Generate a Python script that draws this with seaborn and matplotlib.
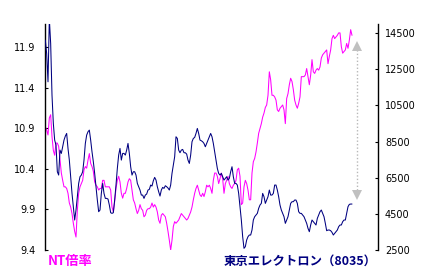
import numpy as np
import pandas as pd
import matplotlib
matplotlib.use("Agg")
import matplotlib.pyplot as plt
import seaborn as sns

# NT ratio (left axis)
nt_ratio = [
    10.92, 10.88, 10.82, 11.03, 11.07, 10.80, 10.63, 10.57, 10.72, 10.72,
    10.68, 10.51, 10.35, 10.26, 10.18, 10.18, 10.16, 10.10, 9.98, 9.93,
    9.85, 9.73, 9.63, 9.56, 9.89, 10.10, 10.18, 10.22, 10.26, 10.39,
    10.43, 10.41, 10.51, 10.59, 10.47, 10.43, 10.37, 10.24, 10.20, 10.18,
    10.14, 10.16, 10.16, 10.26, 10.26, 10.18, 10.18, 10.18, 10.18, 10.14,
    9.93, 9.87, 10.00, 10.16, 10.26, 10.31, 10.24, 10.10, 10.04, 10.10,
    10.10, 10.16, 10.24, 10.28, 10.26, 10.14, 10.02, 9.98, 9.91, 9.85,
    9.89, 9.96, 9.91, 9.89, 9.81, 9.83, 9.89, 9.91, 9.91, 9.93,
    9.98, 9.93, 9.96, 9.93, 9.87, 9.77, 9.73, 9.83, 9.85, 9.83,
    9.81, 9.73, 9.63, 9.52, 9.40, 9.52, 9.69, 9.75, 9.73, 9.75,
    9.77, 9.81, 9.85, 9.83, 9.81, 9.79, 9.77, 9.79, 9.83, 9.87,
    9.93, 10.02, 10.10, 10.16, 10.20, 10.14, 10.08, 10.06, 10.10, 10.06,
    10.12, 10.20, 10.18, 10.20, 10.16, 10.10, 10.26, 10.35, 10.35, 10.31,
    10.22, 10.28, 10.35, 10.28, 10.10, 10.22, 10.26, 10.31, 10.22, 10.18,
    10.16, 10.20, 10.22, 10.26, 10.39, 10.41, 10.31, 9.96, 9.98, 10.18,
    10.26, 10.22, 10.14, 10.02, 10.02, 10.35, 10.49, 10.53, 10.61, 10.72,
    10.84, 10.90, 10.96, 11.04, 11.09, 11.16, 11.19, 11.31, 11.60, 11.50,
    11.31, 11.31, 11.29, 11.25, 11.13, 11.11, 11.15, 11.17, 11.19, 11.13,
    10.96, 11.27, 11.33, 11.44, 11.52, 11.48, 11.38, 11.25, 11.19, 11.15,
    11.21, 11.29, 11.54, 11.54, 11.54, 11.56, 11.64, 11.54, 11.44, 11.56,
    11.75, 11.60, 11.58, 11.62, 11.64, 11.62, 11.66, 11.77, 11.81, 11.83,
    11.85, 11.87, 11.70, 11.79, 11.87, 12.01, 12.05, 12.01, 12.03, 12.05,
    12.08, 12.08, 11.91, 11.83, 11.85, 11.87, 11.95, 11.89, 11.99, 12.12,
    12.05,
]

# Tokyo Electron (8035) price (right axis)
tel_price = [
    14105, 13368, 11802, 15300, 13920, 11065, 9500, 8579, 8302, 6829,
    6645, 8026, 7842, 8210, 8579, 8800, 8947, 8118, 7473, 6552,
    5631, 4895, 4158, 4710, 5447, 6184, 6552, 6645, 6829, 7473,
    8394, 8855, 9039, 9131, 8579, 7934, 7381, 6737, 6000, 5263,
    4618, 4710, 5631, 6184, 5631, 5355, 5355, 5318, 4987, 4563,
    4526, 4563, 5263, 6092, 7013, 7750, 8118, 7473, 7842, 7842,
    7750, 8026, 8394, 7842, 7105, 6645, 6829, 6829, 6645, 6184,
    6000, 5816, 5539, 5539, 5355, 5539, 5595, 5816, 5852, 6092,
    6037, 6331, 6516, 6368, 6000, 5724, 5484, 5816, 5963, 5908,
    6055, 6000, 5926, 5816, 6092, 6737, 7197, 7658, 8763, 8671,
    8026, 7879, 8026, 8063, 7879, 7879, 7805, 7473, 7289, 7750,
    8487, 8671, 8726, 8947, 9223, 8947, 8579, 8542, 8487, 8394,
    8210, 8394, 8579, 8763, 8947, 8763, 8394, 7934, 7473, 7013,
    6737, 6645, 6737, 6552, 6368, 6460, 6552, 6368, 6460, 6829,
    7105, 6552, 6184, 6184, 6092, 5631, 4895, 4158, 3237, 2592,
    2684, 3053, 3237, 3329, 3329, 3605, 4158, 4342, 4434, 4526,
    4803, 4987, 5079, 5631, 5447, 5079, 5263, 5447, 5816, 5539,
    5539, 5631, 6092, 6092, 5816, 5447, 4987, 4710, 4526, 4342,
    3974, 4158, 4342, 4710, 5079, 5171, 5171, 5263, 5263, 5079,
    4618, 4526, 4526, 4434, 4342, 4158, 3974, 3697, 3513, 3882,
    4158, 4066, 3974, 3882, 4250, 4434, 4618, 4710, 4526, 4342,
    3974, 3568, 3605, 3605, 3568, 3476, 3329, 3421, 3513, 3605,
    3789, 3882, 3882, 4066, 4158, 4158, 4526, 4895, 5024, 5042,
    5042,
]

left_ticks = [9.4, 9.9, 10.4, 10.9, 11.4, 11.9]
right_ticks = [2500, 4500, 6500, 8500, 10500, 12500, 14500]
label_nt = "NT倍率"
label_tel = "東京エレクトロン（8035）"

PINK = "#ff00ff"
NAVY = "#000080"

sns.set_theme(style="white")
plt.rcParams['font.family'] = ['DejaVu Sans']

df = pd.DataFrame({
    "idx": np.arange(len(nt_ratio)),
    "nt": nt_ratio,
    "tel": tel_price,
})

fig = plt.figure(figsize=(4.33, 2.75), dpi=100)
fig.patch.set_facecolor("white")
ax = fig.add_axes([45 / 433, 25 / 275, 333 / 433, 226 / 275])
ax.set_facecolor("none")

sns.lineplot(data=df, x="idx", y="nt", ax=ax, color=PINK, lw=0.75)
ax2 = ax.twinx()
sns.lineplot(data=df, x="idx", y="tel", ax=ax2, color=NAVY, lw=0.75)

ax.set_xlim(-0.25, 249.5)
ax.set_ylim(9.4, 12.19)
ax2.set_ylim(2500, 15000)

for a in (ax, ax2):
    a.set_xlabel("")
    a.set_ylabel("")
    a.set_xticks([])
    a.spines["top"].set_visible(False)
    a.spines["bottom"].set_visible(False)
    a.grid(False)

ax.spines["left"].set_color("black")
ax.spines["left"].set_linewidth(1.0)
ax.spines["right"].set_visible(False)
ax2.spines["left"].set_visible(False)
ax2.spines["right"].set_color("black")
ax2.spines["right"].set_linewidth(1.0)

ax.set_yticks(left_ticks)
ax.set_yticklabels([f"{v:.1f}" for v in left_ticks])
ax2.set_yticks(right_ticks)
ax2.set_yticklabels([str(v) for v in right_ticks])

ax.tick_params(axis="y", direction="in", length=2.5, width=0.8,
               colors="black", labelsize=7, pad=7, left=True)
ax2.tick_params(axis="y", direction="in", length=2.5, width=0.8,
                colors="black", labelsize=7, pad=5, right=True)

# dotted double arrow on the right
ax2.plot([0.938, 0.938], [0.2655, 0.8894], transform=ax2.transAxes,
         color="#b8b8b8", lw=1.0, linestyle=(0, (1, 1.5)), clip_on=False)
ax2.plot([0.938], [0.9018], transform=ax2.transAxes, marker="^",
         ms=7.5, color="#c0c0c0", mew=0, linestyle="none", clip_on=False)
ax2.plot([0.938], [0.2447], transform=ax2.transAxes, marker="v",
         ms=7.5, color="#c0c0c0", mew=0, linestyle="none", clip_on=False)

cjk = ['Noto Sans CJK JP', 'DejaVu Sans']
fig.text(48 / 433, 1 - 261.5 / 275, label_nt, color=PINK, fontsize=9.5,
         fontweight="bold", family=cjk, ha="left", va="center")
fig.text(224 / 433, 1 - 261.5 / 275, label_tel, color=NAVY, fontsize=8.9,
         fontweight="bold", family=cjk, ha="left", va="center")

fig.savefig("out.png", dpi=100, facecolor="white")
